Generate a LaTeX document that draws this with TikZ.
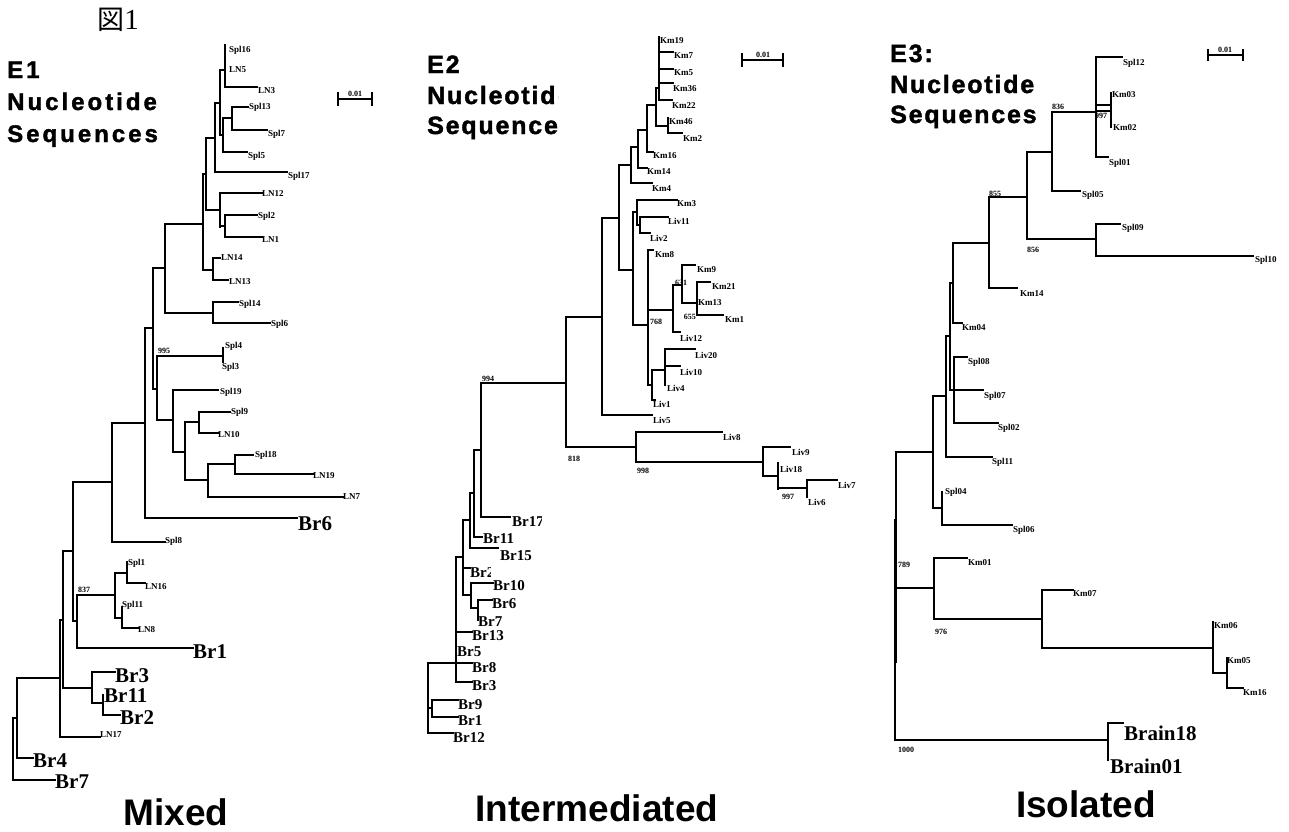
\documentclass[tikz,border=0pt]{standalone}
\usepackage{fontspec}
\setmainfont{Liberation Serif}
\newfontfamily\capfont{Liberation Sans}
\newfontfamily\heavyfont[BoldFeatures={FakeBold=1.6}]{Liberation Sans}
\newfontfamily\cjkfont{Noto Sans CJK JP}
\newcommand\Hb[3]{\draw[br] (#1,#3) -- (#2,#3);}
\newcommand\Vb[3]{\draw[br] (#1,#2) -- (#1,#3);}
\newcommand\Clab[5]{\begin{scope}\clip (#2-2,#3-12) rectangle (#4,#3+12);\node[ml] (#1) at (#2,#3) {#5};\end{scope}}
\def\Lsp#1{\ifx\relax#1\else#1\kern\lspk\expandafter\Lsp\fi}
\newcommand\Ls[2]{\def\lspk{#1}\Lsp#2\relax}
\begin{document}
\begin{tikzpicture}[x=1pt,y=-1pt,
 br/.style={line width=1.5pt,line cap=rect},
 sl/.style={font=\fontsize{9}{9}\selectfont\bfseries,anchor=west,inner sep=0pt},
 bl/.style={font=\fontsize{21}{21}\selectfont\bfseries,anchor=west,inner sep=0pt},
 ml/.style={font=\fontsize{15}{15}\selectfont\bfseries,anchor=west,inner sep=0pt},
 bs/.style={font=\fontsize{8}{8}\selectfont\bfseries,inner sep=0pt},
 ttl/.style={font=\heavyfont\fontsize{25}{25}\selectfont\bfseries,anchor=base west,inner sep=0pt},
 ttlw/.style={font=\heavyfont\fontsize{24}{24}\selectfont\bfseries,anchor=base west,inner sep=0pt},
 captn/.style={font=\capfont\fontsize{37}{37}\selectfont\bfseries,inner sep=0pt}]
\useasboundingbox[fill=white] (0,0) rectangle (1289,831);
% ---------- header ----------
\node[inner sep=0pt] (fig) at (118,20) {{\cjkfont\fontsize{27}{27}\selectfont 図}{\fontsize{29}{29}\selectfont 1}};
\node[ttlw] (e1t1) at (7,78) {\Ls{3.0pt}{E1}};
\node[ttlw] (e1t2) at (7,110) {\Ls{3.0pt}{Nucleotide}};
\node[ttlw] (e1t3) at (7,142) {\Ls{3.0pt}{Sequences}};
\begin{scope}
\clip (420,30) rectangle (558,150);
\node[ttl] (e2t1) at (427,73) {\Ls{1.8pt}{E2}};
\node[ttl] (e2t2) at (427,104) {\Ls{1.8pt}{Nucleotide}};
\node[ttl] (e2t3) at (427,134) {\Ls{1.8pt}{Sequences}};
\end{scope}
\node[ttl] (e3t1) at (890,62) {\Ls{1.8pt}{E3:}};
\node[ttl] (e3t2) at (890,93) {\Ls{1.8pt}{Nucleotide}};
\node[ttl] (e3t3) at (890,123) {\Ls{1.8pt}{Sequences}};
% ---------- scale bars ----------
\Hb{338}{372}{99} \Vb{338}{93}{105} \Vb{372}{93}{105}
\node[bs,anchor=south] (sc1) at (355,97) {0.01};
\Hb{742}{783}{60} \Vb{742}{54}{66} \Vb{783}{54}{66}
\node[bs,anchor=south] (sc2) at (763,58) {0.01};
\Hb{1208}{1243}{55} \Vb{1208}{50}{60} \Vb{1243}{50}{60}
\node[bs,anchor=south] (sc3) at (1225,53) {0.01};
% ---------- E1 tree ----------
\Vb{225}{45}{87}
\node[sl] (spl16) at (229,50) {Spl16};
\node[sl] (ln5) at (229,70) {LN5};
\Hb{225}{257}{87} \node[sl] (ln3) at (258,91) {LN3};
\Vb{220}{70}{135} \Hb{220}{225}{70}
\Vb{232}{107}{130} \Hb{232}{248}{107} \node[sl] (spl13) at (249,107) {Spl13};
\Hb{232}{267}{130} \node[sl] (spl7) at (268,134) {Spl7};
\Vb{223}{118}{152} \Hb{223}{232}{118} \Hb{223}{247}{152} \node[sl] (spl5) at (248,156) {Spl5};
\Hb{220}{223}{135}
\Vb{215}{103}{172} \Hb{215}{220}{103} \Hb{215}{287}{172} \node[sl] (spl17) at (288,176) {Spl17};
\Vb{220}{193}{227} \Hb{220}{262}{193} \node[sl] (ln12) at (262,194) {LN12};
\Vb{225}{215}{237} \Hb{220}{225}{226} \Hb{225}{257}{215} \node[sl] (spl2) at (258,216) {Spl2};
\Hb{225}{262}{237} \node[sl] (ln1) at (262,240) {LN1};
\Vb{206}{138}{210} \Hb{206}{215}{138} \Hb{206}{220}{210}
\Vb{213}{258}{280} \Hb{213}{220}{258} \node[sl] (ln14) at (221,258) {LN14};
\Hb{213}{228}{280} \node[sl] (ln13) at (229,282) {LN13};
\Vb{203}{174}{270} \Hb{203}{206}{174} \Hb{203}{213}{270}
\Vb{165}{224}{313} \Hb{165}{203}{224}
\Vb{213}{302}{323} \Hb{165}{213}{313} \Hb{213}{238}{302} \node[sl] (spl14) at (239,304) {Spl14};
\Hb{213}{270}{323} \node[sl] (spl6) at (271,324) {Spl6};
\Vb{223}{348}{362} \node[sl] (spl4) at (225,346) {Spl4}; \node[sl] (spl3) at (222,367) {Spl3};
\Vb{157}{356}{420} \Hb{157}{223}{356} \node[bs,anchor=south west] (b995) at (158,354) {995};
\Vb{173}{390}{452} \Hb{157}{173}{420} \Hb{173}{218}{390} \node[sl] (spl19) at (220,392) {Spl19};
\Vb{185}{422}{480} \Hb{173}{185}{452}
\Vb{199}{412}{433} \Hb{185}{199}{422} \Hb{199}{230}{412} \node[sl] (spl9) at (231,412) {Spl9};
\Hb{199}{218}{433} \node[sl] (ln10) at (218,435) {LN10};
\Vb{208}{464}{497} \Hb{185}{208}{480}
\Vb{235}{455}{474} \Hb{208}{235}{464} \Hb{235}{253}{455} \node[sl] (spl18) at (255,455) {Spl18};
\Hb{235}{313}{474} \node[sl] (ln19) at (313,476) {LN19};
\Hb{208}{343}{497} \node[sl] (ln7) at (343,497) {LN7};
\Vb{153}{268}{389} \Hb{153}{165}{268} \Hb{153}{157}{389}
\Vb{145}{328}{518} \Hb{145}{153}{328} \Hb{145}{297}{518} \node[bl] (br6) at (298,524) {Br6};
\Vb{112}{423}{542} \Hb{112}{145}{423} \Hb{112}{165}{542} \node[sl] (spl8) at (165,541) {Spl8};
\Vb{127}{562}{583} \node[sl] (spl1) at (128,563) {Spl1}; \Hb{127}{145}{583} \node[sl] (ln16) at (145,587) {LN16};
\Vb{122}{607}{628} \node[sl] (spl11) at (122,605) {Spl11}; \Hb{122}{138}{628} \node[sl] (ln8) at (138,630) {LN8};
\Vb{115}{573}{618} \Hb{115}{127}{573} \Hb{115}{122}{618}
\Vb{77}{595}{648} \Hb{77}{115}{595} \Hb{77}{193}{648} \node[bl] (br1) at (193,652) {Br1};
\node[bs,anchor=south west] (b837) at (78,593) {837};
\Vb{73}{482}{621} \Hb{73}{112}{482} \Hb{73}{77}{621}
\Vb{103}{695}{715} \node[bl] (br11) at (104,696) {Br11}; \Hb{103}{120}{715} \node[bl] (br2) at (120,718) {Br2};
\Vb{92}{672}{703} \Hb{92}{115}{672} \node[bl] (br3) at (115,676) {Br3}; \Hb{92}{103}{703}
\Vb{63}{551}{688} \Hb{63}{73}{551} \Hb{63}{92}{688}
\Vb{60}{620}{737} \Hb{60}{63}{620} \Hb{60}{100}{737} \node[sl] (ln17) at (100,735) {LN17};
\Vb{17}{678}{758} \Hb{17}{60}{678} \Hb{17}{33}{758} \node[bl] (br4) at (33,761) {Br4};
\Vb{13}{718}{780} \Hb{13}{17}{718} \Hb{13}{55}{780} \node[bl] (br7) at (55,782) {Br7};
% ---------- E2 tree ----------
\Vb{659}{37}{100} \node[sl] (km19) at (660,41) {Km19};
\Hb{659}{673}{52} \node[sl] (km7) at (674,56) {Km7};
\Hb{659}{673}{69} \node[sl] (km5) at (674,73) {Km5};
\Hb{659}{673}{83} \node[sl] (km36) at (673,89) {Km36};
\Hb{659}{672}{100} \node[sl] (km22) at (672,106) {Km22};
\Vb{656}{88}{126} \Hb{656}{659}{88}
\Vb{668}{118}{133} \Hb{656}{668}{126} \node[sl] (km46) at (669,122) {Km46};
\Hb{668}{682}{133} \node[sl] (km2) at (683,139) {Km2};
\Vb{647}{105}{152} \Hb{647}{656}{105} \Hb{647}{653}{152} \node[sl] (km16) at (653,156) {Km16};
\Vb{638}{130}{168} \Hb{638}{647}{130} \Hb{638}{647}{168} \node[sl] (km14) at (647,172) {Km14};
\Vb{631}{147}{183} \Hb{631}{638}{147} \Hb{631}{652}{183} \node[sl] (km4) at (652,189) {Km4};
\Vb{640}{217}{233} \Hb{640}{668}{217} \node[sl] (liv11) at (668,221) {Liv11};
\Hb{640}{650}{233} \node[sl] (liv2) at (650,238) {Liv2};
\Vb{637}{200}{225} \Hb{637}{677}{200} \node[sl] (km3) at (677,204) {Km3}; \Hb{637}{640}{225}
\Vb{697}{282}{315} \Hb{697}{710}{282} \node[sl] (km21) at (712,287) {Km21};
\node[sl] (km13) at (698,303) {Km13};
\Hb{697}{723}{315} \node[sl] (km1) at (725,320) {Km1};
\node[bs,anchor=east] (b655) at (696,317) {655};
\Vb{682}{265}{303} \Hb{682}{695}{265} \node[sl] (km9) at (697,270) {Km9}; \Hb{682}{697}{303}
\node[bs] (b631) at (681,283) {631};
\Vb{673}{285}{332} \Hb{673}{682}{285} \Hb{673}{680}{332} \node[sl] (liv12) at (680,338) {Liv12};
\Vb{665}{349}{385} \Hb{665}{695}{349} \node[sl] (liv20) at (695,355) {Liv20};
\Hb{665}{680}{366} \node[sl] (liv10) at (680,372) {Liv10};
\node[sl] (liv4) at (667,388) {Liv4};
\Vb{652}{370}{400} \Hb{652}{665}{370} \Hb{652}{655}{400} \node[sl] (liv1) at (653,404) {Liv1};
\Vb{648}{250}{385} \Hb{648}{653}{250} \node[sl] (km8) at (655,255) {Km8};
\Hb{648}{673}{310} \Hb{648}{652}{385}
\node[bs,anchor=west] (b768) at (650,322) {768};
\Vb{633}{212}{325} \Hb{633}{637}{212} \Hb{633}{648}{325}
\Vb{619}{165}{270} \Hb{619}{631}{165} \Hb{619}{633}{270}
\Vb{602}{218}{415} \Hb{602}{619}{218} \Hb{602}{652}{415} \node[sl] (liv5) at (653,420) {Liv5};
\Vb{566}{317}{447} \Hb{566}{602}{317}
\node[bs,anchor=north west] (b818) at (568,456) {818};
\Vb{636}{432}{462} \Hb{566}{636}{447} \Hb{636}{722}{432} \node[sl] (liv8) at (723,437) {Liv8};
\node[bs,anchor=north west] (b998) at (637,468) {998};
\Vb{763}{447}{476} \Hb{636}{763}{462} \Hb{763}{790}{447} \node[sl] (liv9) at (792,452) {Liv9};
\Vb{778}{463}{489} \Hb{763}{778}{476} \node[sl] (liv18) at (780,469) {Liv18};
\Vb{807}{480}{497} \Hb{778}{807}{488} \Hb{807}{837}{480} \node[sl] (liv7) at (838,485) {Liv7};
\node[sl] (liv6) at (808,502) {Liv6};
\node[bs,anchor=north west] (b997) at (782,494) {997};
\Vb{481}{383}{517} \Hb{481}{566}{383}
\node[bs,anchor=south west] (b994) at (482,382) {994};
\Hb{481}{510}{517} \Clab{br17}{512}{522}{541}{Br17}
\Vb{474}{450}{537} \Hb{474}{481}{450} \Hb{474}{482}{537} \Clab{br11b}{483}{539}{520}{Br11}
\Vb{470}{493}{548} \Hb{470}{474}{493} \Hb{470}{498}{548} \Clab{br15}{500}{556}{532}{Br15}
\Vb{463}{520}{595} \Hb{463}{470}{520} \Hb{463}{470}{568} \Clab{br2b}{470}{573}{490}{Br2}
\Hb{463}{471}{595}
\Vb{471}{583}{608} \Hb{471}{493}{583} \Clab{br10}{493}{586}{528}{Br10}
\Vb{478}{600}{620} \Hb{471}{478}{608} \Hb{478}{492}{600} \Clab{br6b}{492}{604}{518}{Br6}
\Clab{br7b}{478}{622}{504}{Br7}
\Vb{456}{557}{682} \Hb{456}{463}{557}
\Hb{456}{472}{632} \Clab{br13}{472}{636}{504}{Br13}
\Clab{br5}{457}{652}{484}{Br5}
\Hb{456}{472}{663} \Clab{br8}{472}{668}{498}{Br8}
\Hb{456}{472}{682} \Clab{br3b}{472}{686}{498}{Br3}
\Vb{428}{663}{733} \Hb{428}{456}{663}
\Vb{432}{700}{717} \Hb{428}{432}{708}
\Hb{432}{458}{700} \Clab{br9}{458}{705}{484}{Br9}
\Hb{432}{458}{717} \Clab{br1b}{458}{721}{484}{Br1}
\Hb{428}{453}{733} \Clab{br12}{453}{738}{484}{Br12}
% ---------- E3 tree ----------
\Vb{1096}{57}{157} \Hb{1096}{1122}{57} \node[sl] (spl12) at (1123,63) {Spl12};
\Hb{1096}{1108}{157} \node[sl] (spl01) at (1109,163) {Spl01};
\Vb{1111}{93}{127} \node[sl] (km03) at (1112,95) {Km03}; \node[sl] (km02) at (1113,128) {Km02};
\Hb{1096}{1111}{105} \Hb{1096}{1111}{111}
\node[bs,anchor=west] (b997c) at (1095,116) {997};
\Vb{1052}{112}{191} \Hb{1052}{1096}{112}
\node[bs,anchor=south west] (b836) at (1052,110) {836};
\Hb{1052}{1080}{191} \node[sl] (spl05) at (1082,195) {Spl05};
\Vb{1027}{152}{239} \Hb{1027}{1052}{152}
\node[bs,anchor=north west] (b856) at (1027,247) {856};
\Hb{1027}{1096}{239}
\Vb{1096}{224}{256} \Hb{1096}{1120}{224} \node[sl] (spl09) at (1122,228) {Spl09};
\Hb{1096}{1253}{256} \node[sl] (spl10) at (1255,260) {Spl10};
\Vb{989}{197}{288} \Hb{989}{1027}{197}
\node[bs,anchor=south west] (b855) at (989,197) {855};
\Hb{989}{1017}{288} \node[sl] (km14c) at (1020,294) {Km14};
\Vb{953}{243}{323} \Hb{953}{989}{243} \Hb{953}{962}{323} \node[sl] (km04) at (962,328) {Km04};
\Vb{950}{283}{390} \Hb{950}{953}{283}
\Vb{954}{357}{423} \Hb{950}{954}{390}
\Hb{954}{967}{357} \node[sl] (spl08) at (968,362) {Spl08};
\Hb{954}{983}{390} \node[sl] (spl07) at (984,396) {Spl07};
\Hb{954}{998}{423} \node[sl] (spl02) at (998,428) {Spl02};
\Vb{946}{336}{457} \Hb{946}{950}{336} \Hb{946}{992}{457} \node[sl] (spl11c) at (992,462) {Spl11};
\Vb{942}{492}{525} \node[sl] (spl04) at (945,492) {Spl04};
\Hb{942}{1012}{525} \node[sl] (spl06) at (1013,530) {Spl06};
\Vb{933}{396}{508} \Hb{933}{946}{396} \Hb{933}{942}{508}
\Vb{896}{452}{588} \Hb{896}{933}{452}
\node[bs,anchor=west] (b789) at (898,565) {789};
\Vb{934}{558}{619} \Hb{896}{934}{588} \Hb{934}{967}{558} \node[sl] (km01) at (968,563) {Km01};
\node[bs,anchor=west] (b976) at (935,632) {976};
\Vb{1042}{590}{648} \Hb{934}{1042}{619} \Hb{1042}{1073}{590} \node[sl] (km07) at (1073,594) {Km07};
\Vb{1213}{622}{673} \Hb{1042}{1213}{648} \node[sl] (km06) at (1214,626) {Km06};
\Vb{1227}{658}{688} \Hb{1213}{1227}{673} \node[sl] (km05) at (1227,661) {Km05};
\Hb{1227}{1243}{688} \node[sl] (km16c) at (1243,693) {Km16};
\Vb{895}{520}{740} \draw[line width=3pt] (895,588) -- (895,663);
\Vb{1108}{723}{760} \draw[line width=2.2pt] (895,740) -- (1108,740);
\Hb{1108}{1123}{723} \node[bl] (brain18) at (1124,733) {Brain18};
\node[bl] (brain01) at (1110,766) {Brain01};
\node[bs,anchor=north west] (b1000) at (898,747) {1000};
% ---------- captions ----------
\node[captn] (mixed) at (176,812) {Mixed};
\node[captn] (inter) at (597,808) {Intermediated};
\node[captn] (iso) at (1086,804) {Isolated};
\end{tikzpicture}
\end{document}
